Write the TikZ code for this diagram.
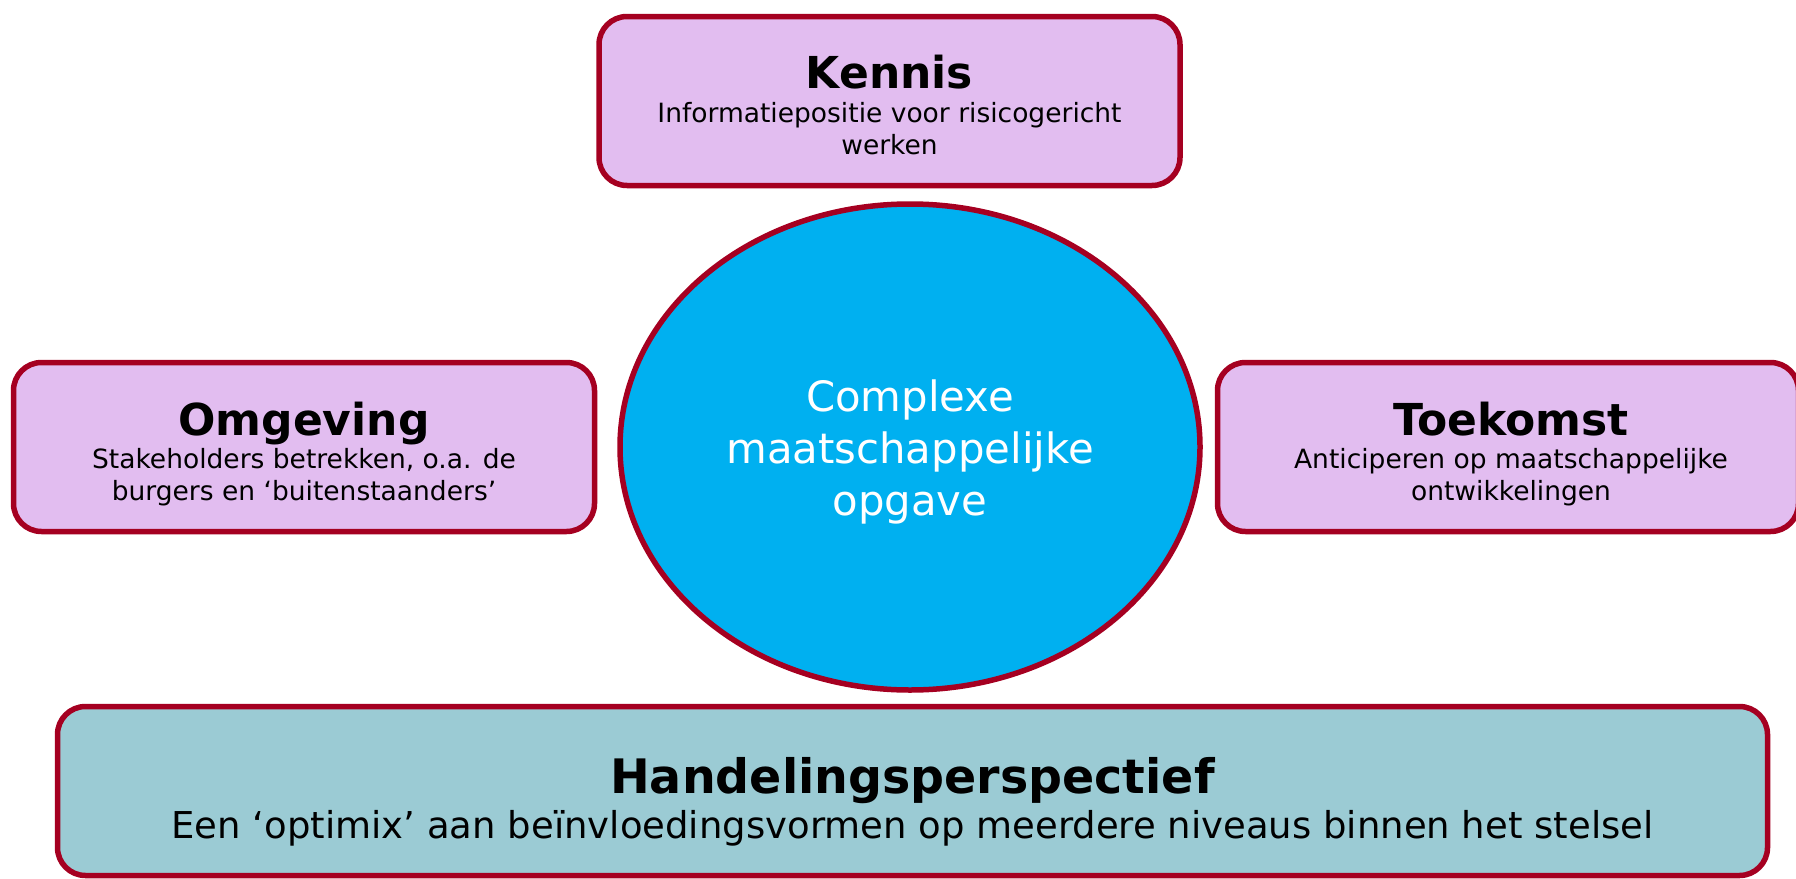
\documentclass[tikz,border=0pt]{standalone}
\usepackage{fontspec}
\setmainfont{DejaVu Sans}
\usetikzlibrary{shapes.geometric}
\definecolor{bordred}{HTML}{A50021}
\definecolor{pinkfill}{HTML}{E2BDF0}
\definecolor{bluefill}{HTML}{00B0F0}
\definecolor{tealfill}{HTML}{9BCBD4}
\tikzset{
  box/.style={draw=bordred, line width=5.5pt, rounded corners=28pt, rectangle, inner sep=0pt},
  pinkbox/.style={box, fill=pinkfill, minimum width=581pt, minimum height=169pt},
  ttl/.style={anchor=base, inner sep=0pt, font=\fontsize{44}{52}\selectfont\bfseries},
  body/.style={anchor=base, inner sep=0pt, font=\fontsize{26.5}{32}\selectfont},
  ell/.style={anchor=base, inner sep=0pt, text=white, font=\fontsize{41.8}{52}\selectfont},
}
\begin{document}
\begin{tikzpicture}[x=1pt,y=-1pt]
\useasboundingbox (0,0) rectangle (1796,878);
% boxes
\node[pinkbox] (kennis) at (889.5,101) {};
\node[pinkbox] (omgeving) at (304,447) {};
\node[pinkbox] (toekomst) at (1508,447) {};
\node[ellipse, draw=bordred, line width=5.5pt, fill=bluefill, minimum width=580pt, minimum height=486pt, inner sep=0pt] (opgave) at (910,447) {};
\node[box, fill=tealfill, minimum width=1710pt, minimum height=169pt] (handel) at (912.5,791) {};
% Kennis
\node[ttl] (kennisT) at (889.5,88) {Kennis};
\node[body] (kennisB1) at (889.5,122) {Informatiepositie voor risicogericht};
\node[body] (kennisB2) at (889.5,154) {werken};
% Omgeving
\node[ttl] (omgT) at (304,435) {Omgeving};
\node[body] (omgB1) at (304,468) {Stakeholders betrekken, o.a. de};
\node[body] (omgB2) at (304,500) {burgers en ‘buitenstaanders’};
% Toekomst
\node[ttl] (toeT) at (1511,435) {Toekomst};
\node[body] (toeB1) at (1511,468) {Anticiperen op maatschappelijke};
\node[body] (toeB2) at (1511,500) {ontwikkelingen};
% ellipse text
\node[ell] (opg1) at (910,411) {Complexe};
\node[ell] (opg2) at (910,463) {maatschappelijke};
\node[ell] (opg3) at (910,515) {opgave};
% Handelingsperspectief
\node[anchor=base, inner sep=0pt, font=\fontsize{47.5}{56}\selectfont\bfseries] (handT) at (912.5,793) {Handelingsperspectief};
\node[anchor=base, inner sep=0pt, font=\fontsize{37}{44}\selectfont] (handB) at (912.5,838) {Een ‘optimix’ aan beïnvloedingsvormen op meerdere niveaus binnen het stelsel};
\end{tikzpicture}
\end{document}
